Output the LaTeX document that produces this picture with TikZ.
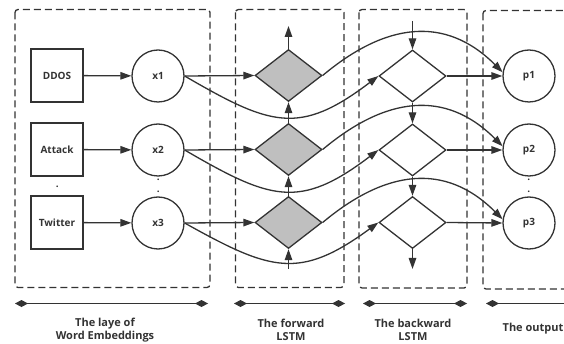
\documentclass[tikz,border=0pt]{standalone}
\usepackage{fontspec}
\setmainfont{Open Sans}
\usetikzlibrary{arrows.meta,shapes.geometric}
\definecolor{linec}{HTML}{333333}
\definecolor{fillg}{HTML}{BFBFBF}
\begin{document}
\begin{tikzpicture}[x=1pt,y=-1pt,
  every node/.style={font=\bfseries\fontsize{10}{12}\selectfont, text=linec},
  ln/.style={draw=linec, line width=1.3pt},
  arr/.style={ln, -{Triangle[length=11pt,width=7.5pt]}},
  panel/.style={draw=linec, line width=1.3pt, dash pattern=on 7pt off 4pt, rounded corners=3pt},
  wordbox/.style={ln, rectangle, minimum width=52pt, minimum height=53pt, inner sep=0pt},
  vec/.style={ln, circle, minimum size=52pt, inner sep=0pt},
  fcell/.style={ln, diamond, fill=fillg, minimum width=67pt, minimum height=52pt, inner sep=0pt},
  bcell/.style={ln, diamond, fill=white, minimum width=67pt, minimum height=52pt, inner sep=0pt},
  span/.style={ln, {Diamond[length=13pt,width=7pt]}-{Diamond[length=13pt,width=7pt]}},
  caption/.style={font=\bfseries\fontsize{11}{12.7}\selectfont, align=center},
  dotl/.style={inner sep=0pt, anchor=base}
]
\useasboundingbox (0,0) rectangle (564,344);
\clip (0,0) rectangle (564,344);

% panels
\draw[panel] (15,9.5) rectangle (210,287.5);
\draw[panel] (235.5,9.5) rectangle (344,287.5);
\draw[panel] (359,9.5) rectangle (467,288);
\draw[panel] (483,10.5) rectangle (600,289);

% word boxes
\node[wordbox] (w1) at (57,75.5) {DDOS};
\node[wordbox] (w2) at (57,149.5) {Attack};
\node[wordbox] (w3) at (57,222.5) {Twitter};

% embeddings
\node[vec] (x1) at (158,76) {x1};
\node[vec] (x2) at (158,150) {x2};
\node[vec] (x3) at (158,223) {x3};

% forward cells
\node[fcell] (f1) at (288.5,75.5) {};
\node[fcell] (f2) at (288.5,149.5) {};
\node[fcell] (f3) at (288.5,222.5) {};

% backward cells
\node[bcell] (b1) at (412.5,76) {};
\node[bcell] (b2) at (412.5,150) {};
\node[bcell] (b3) at (412.5,222.5) {};

% outputs
\node[vec] (p1) at (529,76) {p1};
\node[vec] (p2) at (529,150) {p2};
\node[vec] (p3) at (529,223) {p3};

% dots
\node[dotl] (dw) at (57.3,187.3) {.};
\node[dotl] (dx1) at (158.3,180.6) {.};
\node[dotl] (dx2) at (158.3,192.3) {.};
\node[dotl] (dp1) at (528.7,180.6) {.};
\node[dotl] (dp2) at (528.7,192.3) {.};

% word -> embedding
\draw[arr] (w1) -- (x1);
\draw[arr] (w2) -- (x2);
\draw[arr] (w3) -- (x3);

% embedding -> forward
\draw[arr] (x1.east) -- (f1.west);
\draw[arr] (x2.east) -- (f2.west);
\draw[arr] (x3.east) -- (f3.west);

% embedding -> backward (curves)
\draw[arr] (x1.east) .. controls +(86,50) and +(-79,60) .. (b1.west);
\draw[arr] (x2.east) .. controls +(86,50) and +(-79,60) .. (b2.west);
\draw[arr] (x3.east) .. controls +(86,48) and +(-79,58) .. (b3.west);

% forward -> output (curves)
\draw[arr] (f1.east) .. controls +(62,-52) and +(-58,-58) .. (p1.172);
\draw[arr] (f2.east) .. controls +(62,-52) and +(-58,-58) .. (p2.172);
\draw[arr] (f3.east) .. controls +(62,-52) and +(-58,-58) .. (p3.172);

% backward -> output
\draw[arr] (b1.east) -- (p1.west);
\draw[arr] (b2.east) -- (p2.west);
\draw[arr] (b3.east) -- (p3.west);

% forward chain (upwards)
\coordinate (ftop) at (288.5,26);
\coordinate (fbot) at (288.5,269);
\draw[arr] (f1.north) -- (ftop);
\draw[arr] (f2.north) -- (f1.south);
\draw[arr] (f3.north) -- (f2.south);
\draw[arr] (fbot) -- (f3.south);

% backward chain (downwards)
\coordinate (btop) at (412.5,21);
\coordinate (bbot) at (412.5,269);
\draw[arr] (btop) -- (b1.north);
\draw[arr] (b1.south) -- (b2.north);
\draw[arr] (b2.south) -- (b3.north);
\draw[arr] (b3.south) -- (bbot);

% spans
\coordinate (s1a) at (15,303.5);   \coordinate (s1b) at (208,303.5);
\coordinate (s2a) at (234,303.5);  \coordinate (s2b) at (345,303.5);
\coordinate (s3a) at (363,303.5);  \coordinate (s3b) at (467,303.5);
\coordinate (s4a) at (486,303.5);  \coordinate (s4b) at (600,303.5);
\draw[span] (s1a) -- (s1b);
\draw[span] (s2a) -- (s2b);
\draw[span] (s3a) -- (s3b);
\draw[span] (s4a) -- (s4b);

% captions
\node[caption] (c1) at (105,330) {The laye of\\Word Embeddings};
\node[caption] (c2) at (291,330) {The forward\\LSTM};
\node[caption] (c3) at (413,330) {The backward\\LSTM};
\node[caption] (c4) at (533,329) {The output};
\end{tikzpicture}
\end{document}
